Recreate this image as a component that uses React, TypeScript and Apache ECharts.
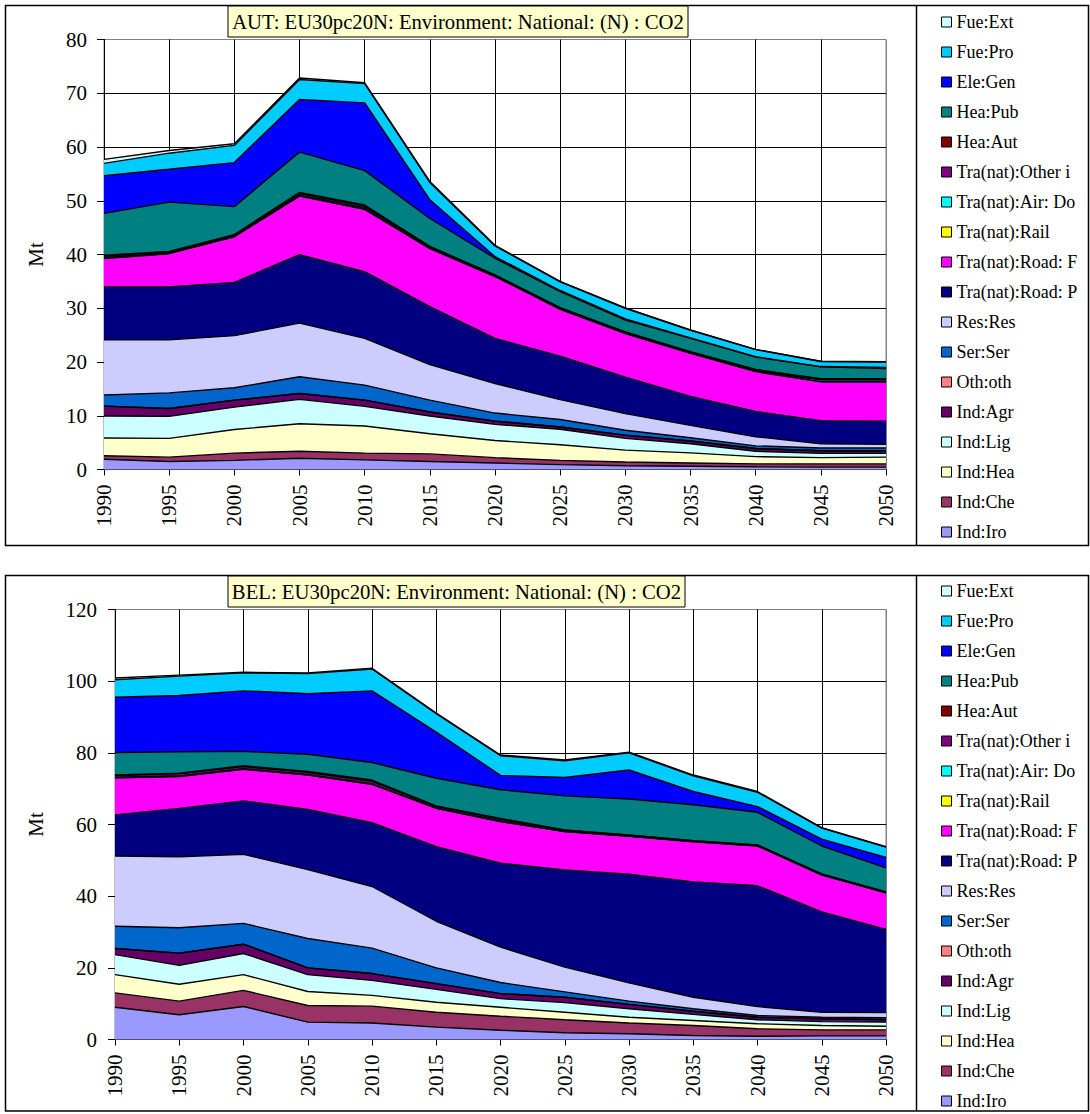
import React, { useEffect, useRef } from "react";
import * as echarts from "echarts";

const YEARS = ["1990", "1995", "2000", "2005", "2010", "2015", "2020", "2025", "2030", "2035", "2040", "2045", "2050"];

const SERIES_NAMES = [
  "Ind:Iro", "Ind:Che", "Ind:Hea", "Ind:Lig", "Ind:Agr", "Oth:oth", "Ser:Ser", "Res:Res",
  "Tra(nat):Road: P", "Tra(nat):Road: F", "Tra(nat):Rail", "Tra(nat):Air: Do", "Tra(nat):Other i",
  "Hea:Aut", "Hea:Pub", "Ele:Gen", "Fue:Pro", "Fue:Ext",
];

const SERIES_COLORS = [
  "#9999FF", "#993366", "#FFFFCC", "#CCFFFF", "#660066", "#FF8080", "#0066CC", "#CCCCFF",
  "#000080", "#FF00FF", "#FFFF00", "#00FFFF", "#800080",
  "#800000", "#008080", "#0000FF", "#00CCFF", "#CCFFFF",
];

// ---- AUT (Mt) ----
const AUT_IND_IRO = [1.9, 1.5, 1.7, 2.1, 1.8, 1.5, 1.2, 0.9, 0.7, 0.6, 0.5, 0.45, 0.45];
const AUT_IND_CHE = [0.65, 0.8, 1.35, 1.3, 1.25, 1.4, 1.0, 0.8, 0.7, 0.6, 0.55, 0.6, 0.6];
const AUT_IND_HEA = [3.3, 3.5, 4.4, 5.1, 5.05, 3.75, 3.2, 2.9, 2.2, 1.9, 1.35, 1.15, 1.25];
const AUT_IND_LIG = [4.1, 4.1, 4.15, 4.55, 3.65, 3.3, 3.0, 2.9, 2.2, 1.7, 1.0, 0.8, 0.7];
const AUT_IND_AGR = [1.85, 1.45, 1.3, 1.1, 1.15, 0.75, 0.6, 0.4, 0.6, 0.5, 0.5, 0.5, 0.5];
const AUT_OTH_OTH = [0, 0, 0, 0, 0, 0, 0, 0, 0, 0, 0, 0, 0];
const AUT_SER_SER = [2.05, 2.9, 2.3, 3.1, 2.8, 2.2, 1.5, 1.4, 0.9, 0.6, 0.5, 0.5, 0.5];
const AUT_RES_RES = [10.3, 9.9, 9.7, 10.0, 8.7, 6.6, 5.5, 3.7, 3.1, 2.3, 1.7, 0.8, 0.7];
const AUT_ROAD_P = [9.8, 9.8, 9.9, 12.7, 12.4, 10.8, 8.4, 8.1, 6.8, 5.4, 4.7, 4.3, 4.3];
const AUT_ROAD_F = [5.3, 6.2, 8.5, 10.9, 11.6, 10.8, 11.5, 8.7, 8.1, 8.0, 7.4, 7.2, 7.3];
const AUT_RAIL = [0.05, 0.05, 0.05, 0.05, 0.05, 0.05, 0.05, 0.05, 0.05, 0.05, 0.05, 0.05, 0.05];
const AUT_AIR = [0.1, 0.1, 0.1, 0.2, 0.2, 0.1, 0.1, 0.1, 0.1, 0.1, 0.1, 0.3, 0.3];
const AUT_OTHER = [0.3, 0.2, 0.2, 0.3, 0.35, 0.2, 0.1, 0.1, 0.1, 0.1, 0.2, 0.2, 0.2];
const AUT_HEA_AUT = [0.15, 0.05, 0.05, 0.15, 0.2, 0.05, 0.05, 0.05, 0.05, 0.05, 0.05, 0.05, 0.05];
const AUT_HEA_PUB = [7.8, 9.2, 5.2, 7.5, 6.4, 5.2, 3.1, 3.0, 2.2, 2.5, 2.3, 2.2, 1.9];
const AUT_ELE_GEN = [7.0, 6.1, 8.2, 9.8, 12.6, 3.5, 0.3, 0.2, 0.2, 0.1, 0.1, 0.05, 0.2];
const AUT_FUE_PRO = [2.3, 3.0, 3.2, 3.7, 3.6, 3.2, 2.0, 1.6, 2.0, 1.4, 1.3, 0.95, 1.0];
const AUT_FUE_EXT = [0.75, 0.5, 0.3, 0.3, 0.15, 0.2, 0.1, 0.1, 0.05, 0.05, 0.05, 0.05, 0.05];

// ---- BEL (Mt) ----
const BEL_IND_IRO = [9.0, 6.9, 9.2, 4.85, 4.6, 3.45, 2.6, 1.9, 1.6, 1.1, 0.9, 1.0, 1.0];
const BEL_IND_CHE = [4.0, 3.8, 4.5, 4.65, 4.7, 4.15, 3.9, 3.6, 3.0, 2.8, 2.1, 1.7, 1.7];
const BEL_IND_HEA = [5.1, 4.7, 4.4, 3.9, 3.0, 2.8, 2.5, 2.1, 1.6, 1.4, 1.4, 1.2, 1.0];
const BEL_IND_LIG = [5.6, 5.3, 5.9, 4.7, 4.2, 3.6, 2.4, 2.7, 2.4, 1.7, 1.1, 1.1, 1.2];
const BEL_IND_AGR = [1.7, 3.4, 2.6, 1.9, 1.9, 1.6, 1.4, 1.5, 1.2, 0.9, 0.7, 0.8, 0.7];
const BEL_OTH_OTH = [0, 0, 0, 0, 0, 0, 0, 0, 0, 0, 0, 0, 0];
const BEL_SER_SER = [6.2, 7.1, 5.8, 8.2, 7.1, 4.4, 3.1, 1.5, 0.9, 0.7, 0.5, 0.4, 0.5];
const BEL_RES_RES = [19.6, 19.8, 19.3, 19.2, 17.2, 13.0, 9.9, 6.9, 5.1, 3.2, 2.5, 1.4, 1.4];
const BEL_ROAD_P = [11.5, 13.5, 14.9, 16.8, 17.8, 20.8, 23.4, 27.1, 30.3, 32.2, 33.7, 28.0, 23.2];
const BEL_ROAD_F = [10.3, 8.9, 8.8, 9.6, 10.7, 10.7, 11.6, 10.7, 10.6, 11.2, 11.1, 10.3, 10.2];
const BEL_RAIL = [0.05, 0.05, 0.05, 0.05, 0.05, 0.05, 0.05, 0.05, 0.05, 0.05, 0.05, 0.05, 0.05];
const BEL_AIR = [0.1, 0.1, 0.1, 0.1, 0.1, 0.1, 0.1, 0.05, 0.05, 0.05, 0.05, 0.05, 0.05];
const BEL_OTHER = [0.5, 0.7, 0.6, 0.6, 0.7, 0.4, 0.5, 0.3, 0.2, 0.15, 0.15, 0.15, 0.15];
const BEL_HEA_AUT = [0.15, 0.05, 0.25, 0.25, 0.35, 0.15, 0.25, 0.1, 0.1, 0.05, 0.05, 0.05, 0.05];
const BEL_HEA_PUB = [6.3, 6.0, 4.0, 4.8, 4.9, 7.7, 8.0, 9.5, 10.0, 10.0, 9.1, 7.8, 6.7];
const BEL_ELE_GEN = [15.4, 15.7, 16.9, 16.9, 20.0, 12.9, 4.0, 5.1, 8.1, 3.7, 1.6, 1.9, 2.9];
const BEL_FUE_PRO = [4.9, 5.4, 5.0, 5.6, 6.1, 5.1, 5.5, 4.7, 4.8, 4.4, 4.0, 3.1, 2.9];
const BEL_FUE_EXT = [0.5, 0.3, 0.2, 0.2, 0.2, 0.2, 0.2, 0.2, 0.2, 0.2, 0.2, 0.1, 0.1];

const AUT_SERIES = [
  AUT_IND_IRO, AUT_IND_CHE, AUT_IND_HEA, AUT_IND_LIG, AUT_IND_AGR, AUT_OTH_OTH, AUT_SER_SER, AUT_RES_RES,
  AUT_ROAD_P, AUT_ROAD_F, AUT_RAIL, AUT_AIR, AUT_OTHER, AUT_HEA_AUT, AUT_HEA_PUB, AUT_ELE_GEN, AUT_FUE_PRO, AUT_FUE_EXT,
];
const BEL_SERIES = [
  BEL_IND_IRO, BEL_IND_CHE, BEL_IND_HEA, BEL_IND_LIG, BEL_IND_AGR, BEL_OTH_OTH, BEL_SER_SER, BEL_RES_RES,
  BEL_ROAD_P, BEL_ROAD_F, BEL_RAIL, BEL_AIR, BEL_OTHER, BEL_HEA_AUT, BEL_HEA_PUB, BEL_ELE_GEN, BEL_FUE_PRO, BEL_FUE_EXT,
];

const AUT_TITLE = "AUT: EU30pc20N: Environment: National: (N) : CO2";
const BEL_TITLE = "BEL: EU30pc20N: Environment: National: (N) : CO2";
const Y_NAME = "Mt";

const FONT = "Liberation Serif";

interface Cfg {
  title: string;
  data: number[][];
  yMax: number;
  yInterval: number;
  gridLeft: number;
  gridTop: number;
  gridWidth: number;
  gridHeight: number;
  frameTop: number;
  frameBottom: number;
  titleBox: { x: number; y: number; w: number; h: number };
  legendTop: number;
  nameGap: number;
  labelMargin: number;
}

function buildOption(cfg: Cfg) {
  const nY = cfg.yMax / cfg.yInterval + 1;
  const yColors = Array.from({ length: nY }, (_, i) => (i === nY - 1 ? "#808080" : "#000000"));
  const xColors = YEARS.map((_, i) => (i === YEARS.length - 1 ? "#808080" : "#000000"));
  const legendData = SERIES_NAMES.map((n, i) => ({
    name: n,
    itemStyle: { color: SERIES_COLORS[i], borderColor: "#000", borderWidth: 1 },
  })).reverse();

  return {
    animation: false,
    textStyle: { fontFamily: FONT },
    grid: {
      left: cfg.gridLeft,
      top: cfg.gridTop,
      width: cfg.gridWidth,
      height: cfg.gridHeight,
      show: true,
      borderColor: "#808080",
      borderWidth: 1,
      backgroundColor: "transparent",
    },
    legend: {
      orient: "vertical",
      left: 941,
      top: cfg.legendTop,
      padding: 0,
      icon: "rect",
      itemWidth: 10,
      itemHeight: 10,
      itemGap: 12,
      data: legendData,
      textStyle: { fontFamily: FONT, fontSize: 18, color: "#000", lineHeight: 18 },
      selectedMode: false,
    },
    xAxis: {
      type: "category",
      boundaryGap: false,
      data: YEARS,
      axisLine: { show: true, lineStyle: { color: "#000", width: 1 } },
      axisTick: { show: true, length: 6, lineStyle: { color: "#000" } },
      axisLabel: { rotate: 90, margin: 15, fontFamily: FONT, fontSize: 21, color: "#000", interval: 0 },
      splitLine: { show: true, lineStyle: { color: xColors, width: 1 } },
    },
    yAxis: {
      type: "value",
      min: 0,
      max: cfg.yMax,
      interval: cfg.yInterval,
      name: Y_NAME,
      nameLocation: "middle",
      nameGap: cfg.nameGap,
      nameTextStyle: { fontFamily: FONT, fontSize: 21, color: "#000" },
      axisLine: { show: true, lineStyle: { color: "#000", width: 1 } },
      axisTick: { show: true, length: 7, lineStyle: { color: "#000" } },
      axisLabel: { margin: cfg.labelMargin, fontFamily: FONT, fontSize: 21, color: "#000" },
      splitLine: { show: true, lineStyle: { color: yColors, width: 1 } },
    },
    graphic: [
      {
        type: "rect",
        shape: { x: 5.5, y: cfg.frameTop, width: 1083, height: cfg.frameBottom - cfg.frameTop },
        style: { fill: "none", stroke: "#000", lineWidth: 1.5 },
        silent: true,
        z: 0,
      },
      {
        type: "line",
        shape: { x1: 916.5, y1: cfg.frameTop, x2: 916.5, y2: cfg.frameBottom },
        style: { stroke: "#000", lineWidth: 1.5 },
        silent: true,
      },
      {
        type: "rect",
        shape: { x: cfg.titleBox.x, y: cfg.titleBox.y, width: cfg.titleBox.w, height: cfg.titleBox.h },
        style: { fill: "#FFFFCC", stroke: "#000", lineWidth: 1 },
        silent: true,
        z: 10,
      },
      {
        type: "text",
        x: cfg.titleBox.x + cfg.titleBox.w / 2,
        y: cfg.titleBox.y + cfg.titleBox.h / 2,
        style: {
          text: cfg.title,
          fontFamily: FONT,
          fontSize: 20.7,
          fill: "#000",
          align: "center",
          verticalAlign: "middle",
        },
        silent: true,
        z: 11,
      },
    ],
    series: SERIES_NAMES.map((name, i) => ({
      name,
      type: "line",
      stack: "total",
      data: cfg.data[i],
      symbol: "none",
      smooth: false,
      itemStyle: { color: SERIES_COLORS[i] },
      lineStyle: { color: "#000", width: 1.4 },
      areaStyle: { color: SERIES_COLORS[i], opacity: 1 },
      emphasis: { disabled: true },
    })),
  };
}

function ChartPanel({ cfg, top, height }: { cfg: Cfg; top: number; height: number }) {
  const ref = useRef<HTMLDivElement>(null);
  useEffect(() => {
    if (!ref.current) return;
    const chart = echarts.init(ref.current, undefined, { renderer: "svg" });
    chart.setOption(buildOption(cfg) as any);
    return () => chart.dispose();
  }, [cfg]);
  return (
    <div
      ref={ref}
      style={{ position: "absolute", left: 0, top, width: 1090, height }}
    />
  );
}

const AUT_CFG: Cfg = {
  title: AUT_TITLE,
  data: AUT_SERIES,
  yMax: 80,
  yInterval: 10,
  gridLeft: 104,
  gridTop: 39.5,
  gridWidth: 782,
  gridHeight: 430,
  frameTop: 5.5,
  frameBottom: 545.5,
  titleBox: { x: 228, y: 6, w: 460, h: 31 },
  legendTop: 13,
  nameGap: 58,
  labelMargin: 17,
};

const BEL_CFG: Cfg = {
  title: BEL_TITLE,
  data: BEL_SERIES,
  yMax: 120,
  yInterval: 20,
  gridLeft: 115,
  gridTop: 49.5,
  gridWidth: 771,
  gridHeight: 430,
  frameTop: 15.5,
  frameBottom: 551,
  titleBox: { x: 228, y: 16, w: 457, h: 31 },
  legendTop: 22,
  nameGap: 69,
  labelMargin: 18,
};

export default function App() {
  return (
    <div style={{ position: "absolute", left: 0, top: 0, width: 1090, height: 1114, background: "#fff" }}>
      <ChartPanel cfg={AUT_CFG} top={0} height={560} />
      <ChartPanel cfg={BEL_CFG} top={560} height={560} />
    </div>
  );
}
